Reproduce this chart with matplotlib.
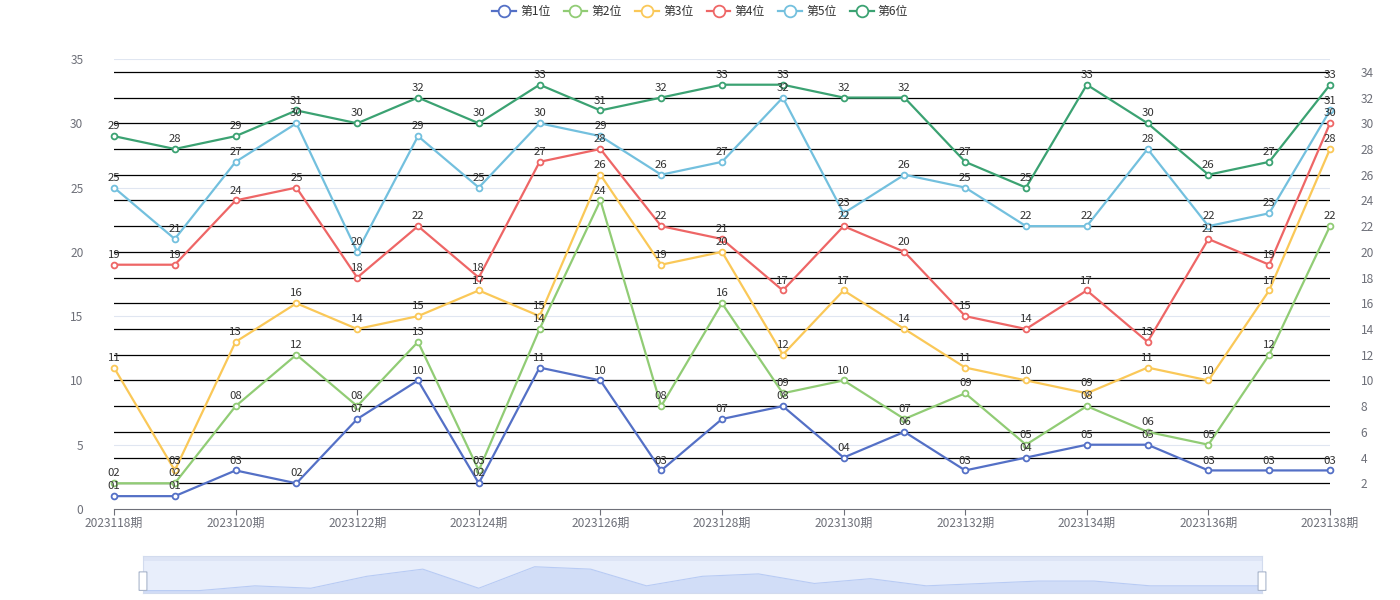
import matplotlib
matplotlib.use('Agg')
import matplotlib.pyplot as plt
from matplotlib.patches import FancyBboxPatch
import numpy as np

plt.rcParams['font.family'] = ['Noto Sans CJK SC', 'DejaVu Sans']

periods = ['2023%d期' % n for n in range(118, 139)]
names = ['第1位', '第2位', '第3位', '第4位', '第5位', '第6位']
colors = ['#5470c6', '#91cc75', '#fac858', '#ee6666', '#73c0de', '#3ba272']

pos1 = [1, 1, 3, 2, 7, 10, 2, 11, 10, 3, 7, 8, 4, 6, 3, 4, 5, 5, 3, 3, 3]
pos2 = [2, 2, 8, 12, 8, 13, 3, 14, 24, 8, 16, 9, 10, 7, 9, 5, 8, 6, 5, 12, 22]
pos3 = [11, 3, 13, 16, 14, 15, 17, 15, 26, 19, 20, 12, 17, 14, 11, 10, 9, 11, 10, 17, 28]
pos4 = [19, 19, 24, 25, 18, 22, 18, 27, 28, 22, 21, 17, 22, 20, 15, 14, 17, 13, 21, 19, 30]
pos5 = [25, 21, 27, 30, 20, 29, 25, 30, 29, 26, 27, 32, 23, 26, 25, 22, 22, 28, 22, 23, 31]
pos6 = [29, 28, 29, 31, 30, 32, 30, 33, 31, 32, 33, 33, 32, 32, 27, 25, 33, 30, 26, 27, 33]
series = [pos1, pos2, pos3, pos4, pos5, pos6]

left_ticks = [0, 5, 10, 15, 20, 25, 30, 35]
right_ticks = list(range(2, 35, 2))

fig = plt.figure(figsize=(14, 6), dpi=100)
ax = fig.add_axes([114 / 1400, 1 - 509 / 600, (1330 - 114) / 1400, 450 / 600])
x = np.arange(len(periods))

# right axis with black grid lines, light left grid underneath
ax2 = ax.twinx()
ax2.set_ylim(0, 35)
ax2.set_yticks(right_ticks)
for t in left_ticks[1:]:
    ax2.axhline(t, color='#E0E6F1', lw=0.8, zorder=0)
for t in right_ticks:
    ax2.axhline(t, color='black', lw=0.9, zorder=1)
ax2.tick_params(axis='y', length=0, labelsize=8.6, colors='#6E7079', pad=22)
for s in ax2.spines.values():
    s.set_visible(False)

ax.set_zorder(ax2.get_zorder() + 1)
ax.patch.set_visible(False)

for name, vals, c in zip(names, series, colors):
    ax.plot(x, vals, color=c, lw=1.6, marker='o', markersize=4.2,
            markerfacecolor='white', markeredgecolor=c, markeredgewidth=1.3,
            label=name, zorder=3, clip_on=False)
    for xi, v in zip(x, vals):
        ax.annotate('%02d' % v, (xi, v), xytext=(0, 3.5), textcoords='offset points',
                    ha='center', va='bottom', fontsize=8.2, color='#333333', zorder=4)

ax.set_xlim(0, len(periods) - 1)
ax.set_ylim(0, 35)
ax.set_yticks(left_ticks)
ax.set_xticks(x[::2])
ax.set_xticklabels(periods[::2])
ax.tick_params(axis='y', length=0, labelsize=8.6, colors='#6E7079', pad=22)
ax.tick_params(axis='x', length=4, color='#6E7079', labelsize=8.6, labelcolor='#6E7079', pad=2)
for k in ['top', 'right', 'left']:
    ax.spines[k].set_visible(False)
ax.spines['bottom'].set_color('#6E7079')

leg = fig.legend(*ax.get_legend_handles_labels(), loc='upper center',
                 bbox_to_anchor=(0.5, 1.0), ncol=6, frameon=False,
                 fontsize=8.6, handlelength=2.0, columnspacing=1.1, handletextpad=0.35,
                 markerscale=2.0, borderaxespad=0.05)
for txt in leg.get_texts():
    txt.set_color('#333333')

# data zoom slider
sl = fig.add_axes([143 / 1400, 1 - 593 / 600, (1262 - 143) / 1400, 37 / 600])
sl.set_facecolor('#e8eefb')
sl.fill_between(x, pos1, 0, color='#d1ddf7', lw=0)
sl.plot(x, pos1, color='#b8cbf4', lw=0.8)
sl.set_xlim(0, len(periods) - 1)
sl.set_ylim(0, 15.5)
sl.axhspan(13.3, 15.5, color='#dde4f5', lw=0)
sl.set_xticks([])
sl.set_yticks([])
for s in sl.spines.values():
    s.set_color('#d2dbee')
for hx in [0.0, 1.0]:
    sl.add_patch(FancyBboxPatch((hx - 0.0025, 0.07), 0.005, 0.5,
                                boxstyle='round,pad=0.001', transform=sl.transAxes,
                                facecolor='white', edgecolor='#aab6cc', lw=0.8,
                                clip_on=False, zorder=5))

fig.savefig('out.png', dpi=100)
